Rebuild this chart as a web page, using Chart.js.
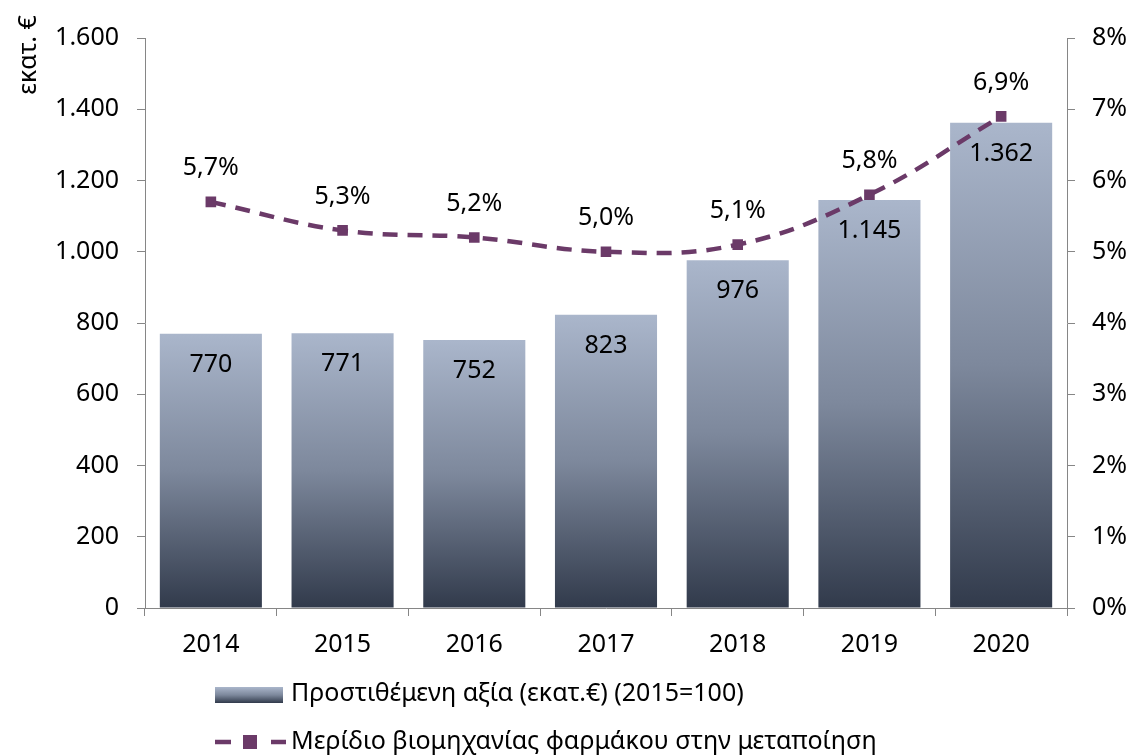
<!DOCTYPE html>
<html>
<head>
<meta charset="utf-8">
<script src="https://cdn.jsdelivr.net/npm/chart.js@4.4.1/dist/chart.umd.min.js"></script>
<style>
  html, body { margin: 0; padding: 0; background: #fff; }
  #wrap { width: 1130px; height: 755px; }
</style>
</head>
<body>
<div id="wrap"><canvas id="chart" width="1130" height="755"></canvas></div>
<script>
const years = ['2014', '2015', '2016', '2017', '2018', '2019', '2020'];
const addedValue = [770, 771, 752, 823, 976, 1145, 1362];
const pharmaShare = [5.7, 5.3, 5.2, 5.0, 5.1, 5.8, 6.9];
const leftTicks = [0, 200, 400, 600, 800, 1000, 1200, 1400, 1600];
const rightTicks = [0, 1, 2, 3, 4, 5, 6, 7, 8];

const barLabel = 'Προστιθέμενη αξία (εκατ.€) (2015=100)';
const lineLabel = 'Μερίδιο βιομηχανίας φαρμάκου στην μεταποίηση';
const yTitle = 'εκατ. €';

const FONT = '"Noto Sans", sans-serif';
const FS = 25;
const purple = '#6b3a68';
const axisGrey = '#868686';

function fmtThousands(v) {
    return v.toString().replace(/\B(?=(\d{3})+(?!\d))/g, '.');
}

function barGradient(c, top, bottom) {
    const g = c.createLinearGradient(0, top, 0, bottom);
    g.addColorStop(0, '#aab6cb');
    g.addColorStop(0.5, '#7d889c');
    g.addColorStop(1, '#313a4b');
    return g;
}

// value labels + legend + rotated axis title
const extras = {
    id: 'extras',
    afterDatasetsDraw(chart) {
        const c = chart.ctx;
        c.save();
        c.fillStyle = '#000';
        c.font = FS + 'px ' + FONT;
        c.textAlign = 'center';
        c.textBaseline = 'middle';

        const barMeta = chart.getDatasetMeta(1);
        barMeta.data.forEach((el, i) => {
            c.fillText(fmtThousands(addedValue[i]), el.x, el.y + 31);
        });
        const lineMeta = chart.getDatasetMeta(0);
        lineMeta.data.forEach((el, i) => {
            c.fillText(pharmaShare[i].toFixed(1).replace('.', ',') + '%', el.x, el.y - 34);
        });

        // y title
        c.save();
        c.translate(29, 55);
        c.rotate(-Math.PI / 2);
        c.fillText(yTitle, 0, 0);
        c.restore();

        // legend
        c.textAlign = 'left';
        const lx = 215, tx = 291;
        c.fillStyle = barGradient(c, 687, 703);
        c.fillRect(lx, 687, 68, 16);
        c.fillStyle = '#000';
        c.fillText(chart.data.datasets[1].label, tx, 694);

        c.strokeStyle = purple;
        c.lineWidth = 4.5;
        c.beginPath();
        c.moveTo(lx, 742); c.lineTo(lx + 16, 742);
        c.moveTo(lx + 56, 742); c.lineTo(lx + 71, 742);
        c.stroke();
        c.fillStyle = purple;
        c.fillRect(lx + 28, 735, 14, 14);
        c.fillStyle = '#000';
        c.fillText(chart.data.datasets[0].label, tx, 742);
        c.restore();
    }
};

new Chart(document.getElementById('chart'), {
    data: {
        labels: years,
        datasets: [
            {
                type: 'line',
                label: lineLabel,
                data: pharmaShare,
                yAxisID: 'y1',
                order: 0,
                borderColor: purple,
                borderWidth: 4.5,
                borderDash: [15, 10],
                tension: 0.4,
                pointStyle: 'rect',
                pointRadius: 7.5,
                pointBackgroundColor: purple,
                pointBorderColor: purple,
                pointBorderWidth: 0
            },
            {
                type: 'bar',
                label: barLabel,
                data: addedValue,
                yAxisID: 'y',
                order: 1,
                categoryPercentage: 1,
                barPercentage: 0.775,
                backgroundColor: ctx => {
                    const chart = ctx.chart;
                    if (!chart.chartArea || ctx.raw === undefined) return '#7d889c';
                    const y = chart.scales.y;
                    return barGradient(chart.ctx, y.getPixelForValue(ctx.raw), y.getPixelForValue(0));
                }
            }
        ]
    },
    options: {
        responsive: false,
        animation: false,
        layout: { padding: { left: 55, right: 0, top: 38, bottom: 81 } },
        plugins: {
            legend: { display: false },
            tooltip: { enabled: false }
        },
        scales: {
            x: {
                offset: true,
                grid: { offset: true, drawOnChartArea: false, tickLength: 8, color: axisGrey },
                border: { color: axisGrey },
                ticks: { color: '#000', font: { family: FONT, size: FS }, padding: 14 }
            },
            y: {
                position: 'left',
                min: 0,
                max: 1600,
                afterBuildTicks: s => { s.ticks = leftTicks.map(v => ({ value: v })); },
                afterFit: s => { s.width = 90; },
                grid: { drawOnChartArea: false, tickLength: 8, color: axisGrey },
                border: { color: axisGrey },
                ticks: { color: '#000', font: { family: FONT, size: FS }, padding: 18,
                    callback: v => fmtThousands(v) }
            },
            y1: {
                position: 'right',
                min: 0,
                max: 8,
                afterBuildTicks: s => { s.ticks = rightTicks.map(v => ({ value: v })); },
                afterFit: s => { s.width = 63; },
                grid: { drawOnChartArea: false, tickLength: 8, color: axisGrey },
                border: { color: axisGrey },
                ticks: { color: '#000', font: { family: FONT, size: FS }, padding: 17,
                    callback: v => v + '%' }
            }
        }
    },
    plugins: [extras]
});
</script>
</body>
</html>
